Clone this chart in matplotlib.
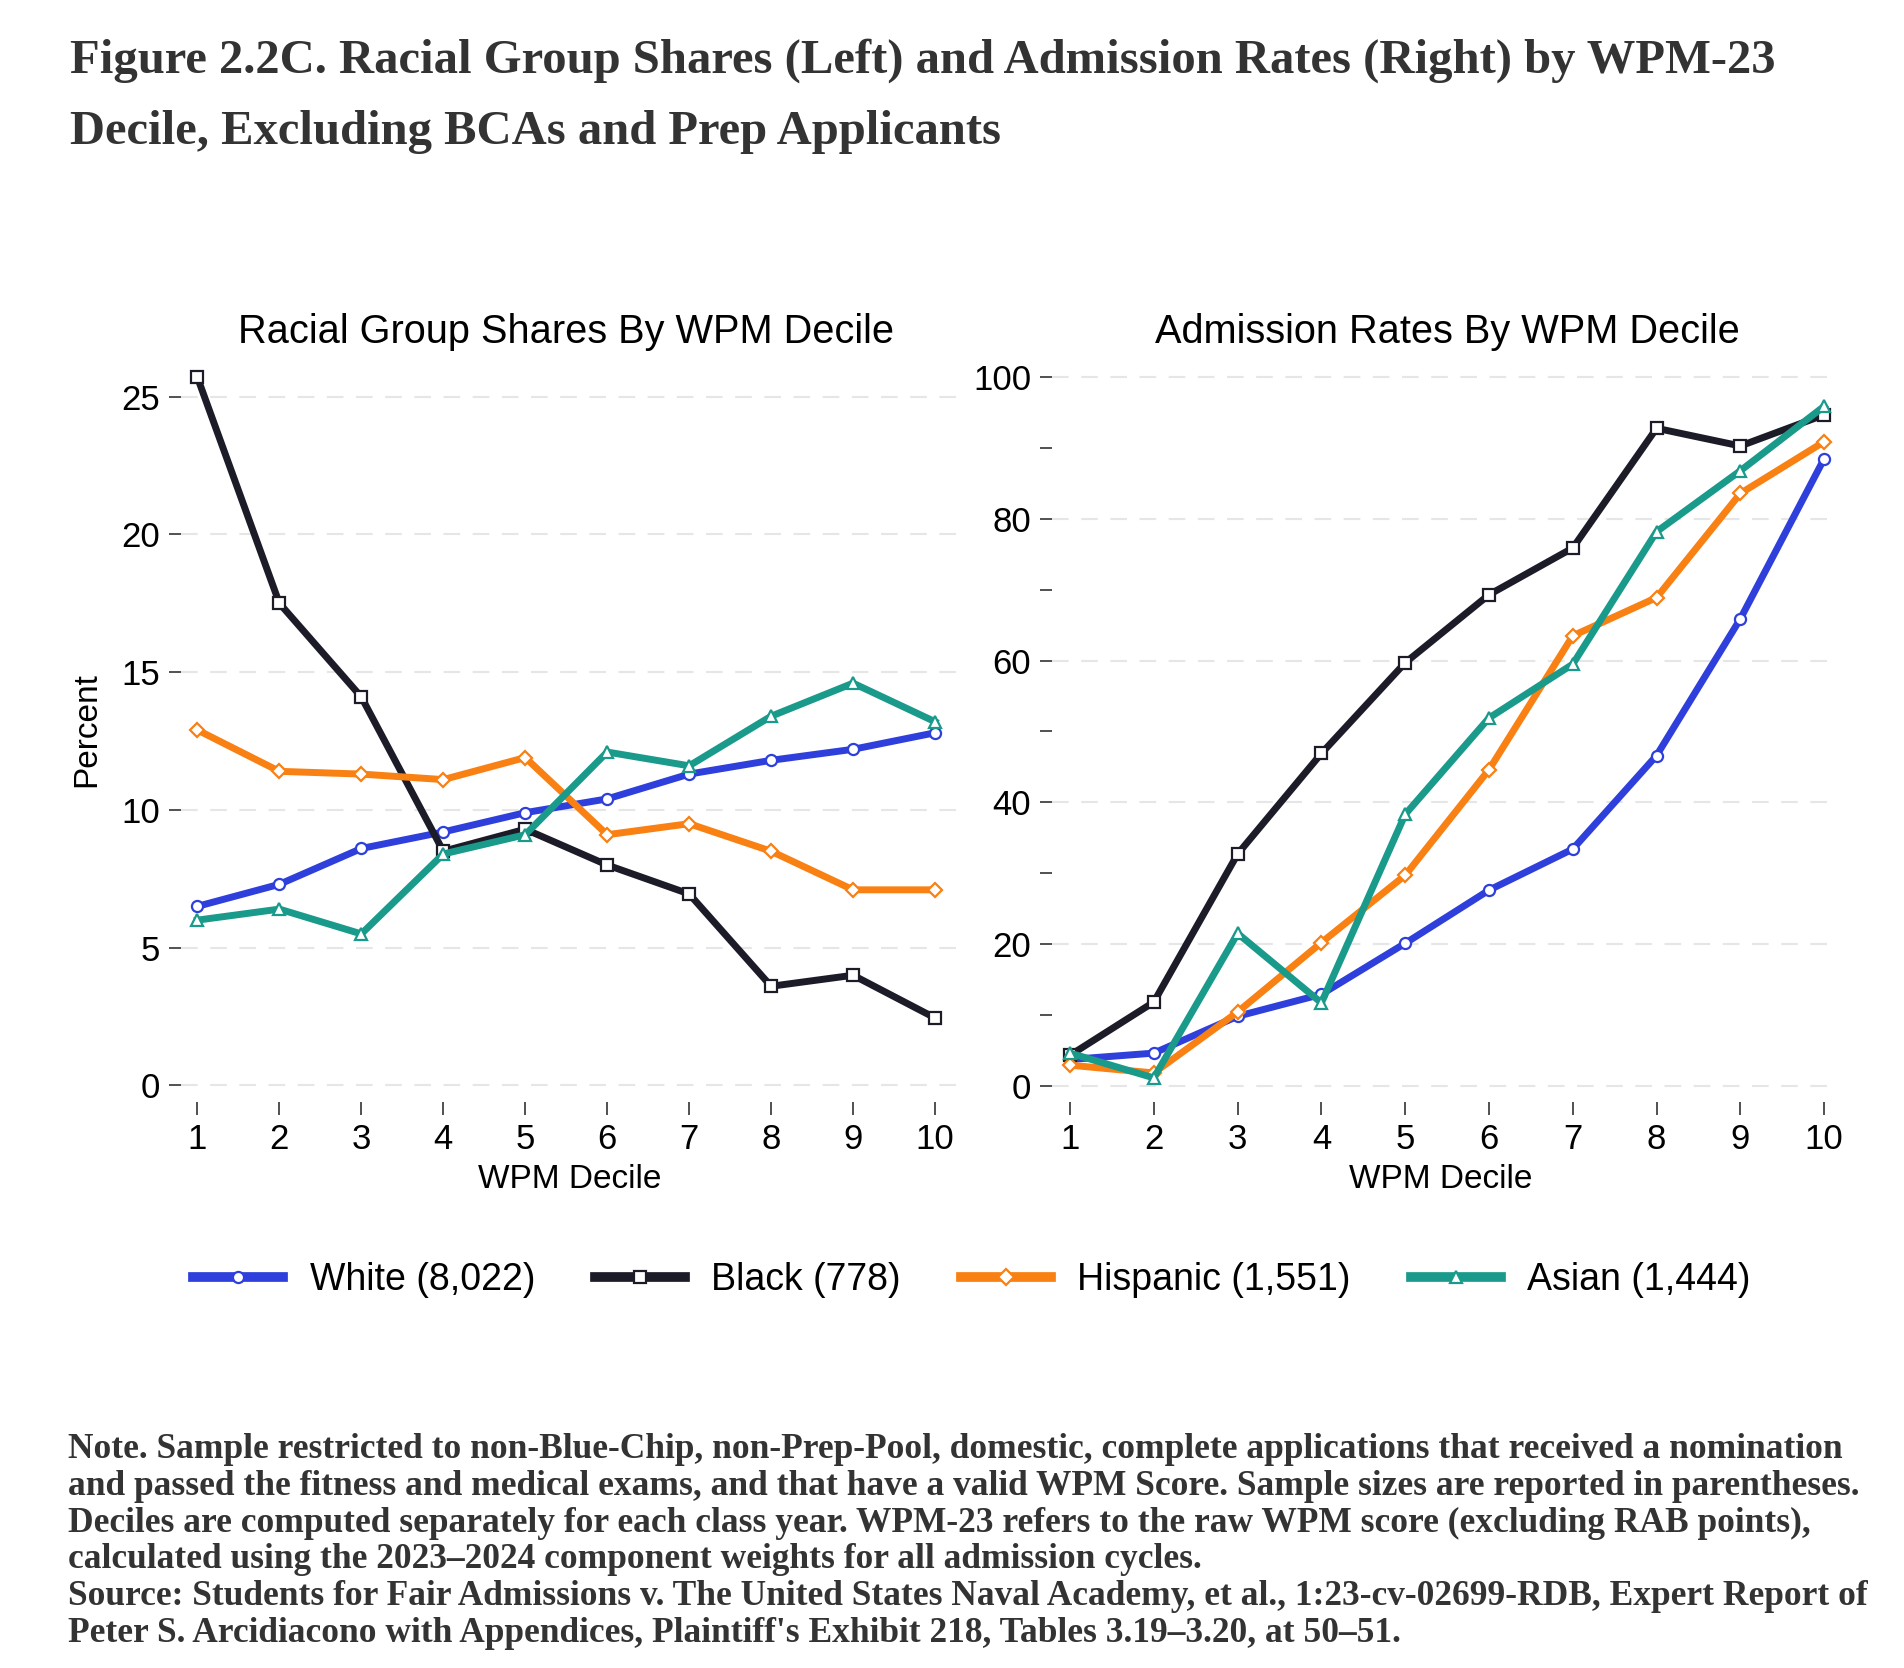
import matplotlib
matplotlib.use("Agg")
import matplotlib.pyplot as plt
from matplotlib.ticker import MultipleLocator

# decile axis
deciles = [1, 2, 3, 4, 5, 6, 7, 8, 9, 10]

# left panel: share of each group (percent)
share_white = [6.5, 7.3, 8.6, 9.2, 9.9, 10.4, 11.3, 11.8, 12.2, 12.8]
share_black = [25.7, 17.5, 14.1, 8.5, 9.3, 8.0, 6.95, 3.6, 4.0, 2.45]
share_hisp = [12.9, 11.4, 11.3, 11.1, 11.9, 9.1, 9.5, 8.5, 7.1, 7.1]
share_asian = [6.0, 6.4, 5.5, 8.4, 9.1, 12.1, 11.6, 13.4, 14.6, 13.2]

# right panel: admission rate (percent)
adm_white = [3.7, 4.6, 9.8, 12.9, 20.1, 27.6, 33.4, 46.6, 65.9, 88.5]
adm_black = [4.3, 11.8, 32.7, 46.9, 59.7, 69.3, 75.9, 92.8, 90.3, 94.7]
adm_hisp = [2.9, 1.8, 10.4, 20.2, 29.7, 44.6, 63.5, 68.9, 83.6, 90.9]
adm_asian = [4.6, 1.1, 21.5, 11.7, 38.3, 51.9, 59.5, 78.2, 86.8, 95.9]

labels = ["White (8,022)", "Black (778)", "Hispanic (1,551)", "Asian (1,444)"]
colors = ["#2e3fdc", "#1c1c28", "#f98012", "#1a9a8a"]
markers = ["o", "s", "D", "^"]

title = ("Figure 2.2C. Racial Group Shares (Left) and Admission Rates (Right) by WPM-23\n"
         "Decile, Excluding BCAs and Prep Applicants")
note = ("Note. Sample restricted to non-Blue-Chip, non-Prep-Pool, domestic, complete applications that received a nomination\n"
        "and passed the fitness and medical exams, and that have a valid WPM Score. Sample sizes are reported in parentheses.\n"
        "Deciles are computed separately for each class year. WPM-23 refers to the raw WPM score (excluding RAB points),\n"
        "calculated using the 2023\u20132024 component weights for all admission cycles.\n"
        "Source: Students for Fair Admissions v. The United States Naval Academy, et al., 1:23-cv-02699-RDB, Expert Report of\n"
        "Peter S. Arcidiacono with Appendices, Plaintiff's Exhibit 218, Tables 3.19\u20133.20, at 50\u201351.")

W, H = 1904, 1668
fig = plt.figure(figsize=(W / 100, H / 100), dpi=100)
plt.rcParams['font.family'] = ['Liberation Sans', 'DejaVu Sans']


def box(x0, y0, x1, y1):
    # pixel box -> figure fraction
    return [x0 / W, 1 - y1 / H, (x1 - x0) / W, (y1 - y0) / H]


ax1 = fig.add_axes(box(181, 358, 958, 1102))
ax2 = fig.add_axes(box(1052, 339, 1830, 1102))

series_left = [share_white, share_black, share_hisp, share_asian]
series_right = [adm_white, adm_black, adm_hisp, adm_asian]

for ax, series in [(ax1, series_left), (ax2, series_right)]:
    for vals, c, m, lab in zip(series, colors, markers, labels):
        ax.plot(deciles, vals, color=c, lw=5, marker=m, ms=8 if m != "D" else 7,
                mfc="white", mec=c, mew=1.6, label=lab, clip_on=False, zorder=3)
    for s in ax.spines.values():
        s.set_visible(False)
    ax.set_xticks(deciles)
    ax.tick_params(axis="both", labelsize=25, color="#333333", width=1.2, length=9, pad=6)
    ax.grid(axis="y", color="#e6e6e6", lw=1.5, ls=(0, (8, 6)), zorder=0)
    ax.set_xlabel("WPM Decile", fontsize=24, labelpad=6)

ax1.set_xlim(0.8, 10.28)
ax1.set_ylim(-0.6, 26.4)
ax1.yaxis.set_major_locator(MultipleLocator(5))
ax1.set_ylabel("Percent", fontsize=24, labelpad=14)

ax2.set_xlim(0.785, 10.07)
ax2.set_ylim(-2.3, 105.4)
ax2.yaxis.set_major_locator(MultipleLocator(20))
ax2.yaxis.set_minor_locator(MultipleLocator(10))
ax2.tick_params(axis="y", which="minor", color="#333333", width=1.2, length=9)

fig.text(566 / W, 1 - 332 / H, "Racial Group Shares By WPM Decile", ha="center", va="center", fontsize=28.6)
fig.text(1447 / W, 1 - 332 / H, "Admission Rates By WPM Decile", ha="center", va="center", fontsize=28.6)

handles, _ = ax1.get_legend_handles_labels()
leg = fig.legend(handles, labels, loc="center", bbox_to_anchor=(972 / W, 1 - 1280 / H), ncol=4,
                 frameon=False, fontsize=27, handlelength=2.4, columnspacing=1.6, handletextpad=0.7)
for ln in leg.get_lines():
    ln.set_linewidth(7)
    ln.set_markersize(8)

fig.text(70 / W, 1 - 38 / H, title, ha="left", va="top", fontsize=35, fontweight="bold",
         family=["Liberation Serif", "DejaVu Serif"], color="#333333", linespacing=1.8)
fig.text(68 / W, 1 - 1433 / H, note, ha="left", va="top", fontsize=25.5, fontweight="bold",
         family=["Liberation Serif", "DejaVu Serif"], color="#333333", linespacing=1.15)

fig.savefig("out.png", dpi=100, facecolor="white")
